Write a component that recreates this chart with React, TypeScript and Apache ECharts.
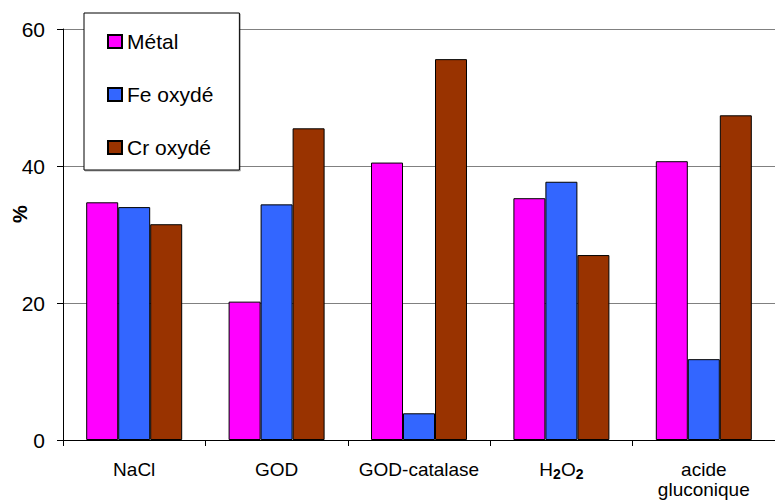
import React, { useEffect, useRef } from "react";
import * as echarts from "echarts";

const categories = ["NaCl", "GOD", "GOD-catalase", "H2O2", "acide\ngluconique"];
const seriesNames = ["Métal", "Fe oxydé", "Cr oxydé"];
const metal = [34.7, 20.2, 40.5, 35.3, 40.7];
const feOxyde = [34.0, 34.4, 3.9, 37.7, 11.8];
const crOxyde = [31.5, 45.5, 55.6, 27.0, 47.4];
const colors = ["#FF00FF", "#3366FF", "#993300"];
const yTicks = { min: 0, max: 60, interval: 20 };

const FONT = "'Liberation Sans', Arial, sans-serif";

export default function App() {
  const ref = useRef<HTMLDivElement>(null);
  useEffect(() => {
    document.body.style.margin = "0";
    if (!ref.current) return;
    const chart = echarts.init(ref.current, null, { renderer: "svg" });
    const values = [metal, feOxyde, crOxyde];
    chart.setOption({
      animation: false,
      backgroundColor: "#ffffff",
      textStyle: { fontFamily: FONT, color: "#000" },
      grid: { left: 63, top: 29, bottom: 62, right: -13, containLabel: false },
      legend: {
        orient: "vertical",
        left: 84,
        top: 13,
        padding: [18, 26, 12, 23],
        itemGap: 32,
        itemWidth: 14,
        itemHeight: 13,
        icon: "rect",
        backgroundColor: "#ffffff",
        borderColor: "#000000",
        borderWidth: 1,
        shadowColor: "rgba(0,0,0,0.3)",
        shadowOffsetX: 1,
        shadowOffsetY: 1,
        shadowBlur: 1,
        textStyle: { fontSize: 21, fontFamily: FONT, color: "#000" },
        data: seriesNames,
      },
      xAxis: {
        type: "category",
        data: categories,
        axisLine: { lineStyle: { color: "#000", width: 1 } },
        axisTick: { show: true, length: 6, lineStyle: { color: "#000" } },
        axisLabel: {
          margin: 19,
          fontSize: 19,
          lineHeight: 20,
          color: "#000",
          fontFamily: FONT,
          interval: 0,
          formatter: (v: string) => (v === "H2O2" ? "{n|H}{s|2}{n|O}{s|2}" : v),
          rich: {
            n: { fontSize: 19, fontFamily: FONT, color: "#000", lineHeight: 20 },
            s: { fontSize: 14, fontWeight: "bold", fontFamily: FONT, color: "#000", padding: [10, 0, 0, 0] },
          },
        },
        splitLine: { show: false },
      },
      yAxis: {
        type: "value",
        min: yTicks.min,
        max: yTicks.max,
        interval: yTicks.interval,
        axisLine: { show: true, lineStyle: { color: "#000", width: 1 } },
        axisTick: { show: true, length: 6, lineStyle: { color: "#000" } },
        axisLabel: { margin: 18, fontSize: 21, color: "#000", fontFamily: FONT },
        splitLine: { show: true, lineStyle: { color: "#808080", width: 1 } },
      },
      graphic: [
        {
          type: "text",
          x: 20,
          y: 214,
          rotation: Math.PI / 2,
          style: {
            text: "%",
            fontSize: 20,
            fontWeight: "bold",
            fontFamily: FONT,
            fill: "#000",
            align: "center",
            verticalAlign: "middle",
          },
        },
      ],
      series: seriesNames.map((name, i) => ({
        name,
        type: "bar",
        data: values[i],
        barWidth: 32,
        barGap: "0%",
        itemStyle: { color: colors[i], borderColor: "#000", borderWidth: 1 },
      })),
    });
    return () => chart.dispose();
  }, []);
  return <div ref={ref} style={{ width: 775, height: 502 }} />;
}
